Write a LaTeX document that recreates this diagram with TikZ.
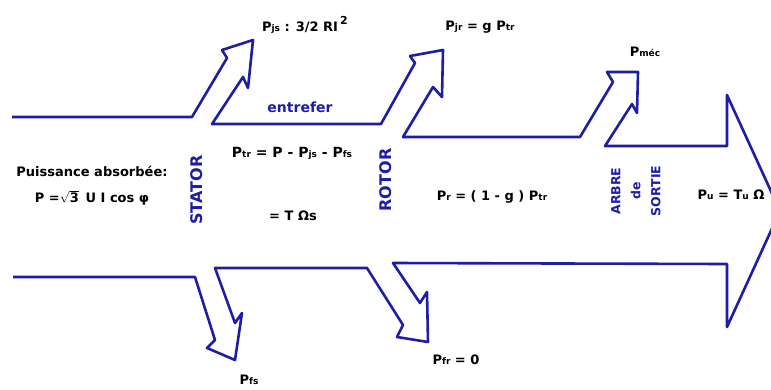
\documentclass[tikz,border=0pt]{standalone}
\usepackage{fontspec}
\setmainfont{DejaVu Sans}
\definecolor{bl}{RGB}{30,30,165}
\newcommand\sbs[1]{{\fontsize{9}{9}\selectfont #1}}
\tikzset{
  band/.style={draw=bl, line width=2.6pt, line join=round},
  formula/.style={font=\bfseries\fontsize{13}{15}\selectfont, text=black, inner sep=0pt},
  part/.style={font=\bfseries\fontsize{16}{16}\selectfont, text=bl, rotate=90, inner sep=0pt, align=center},
}
\begin{document}
\begin{tikzpicture}[x=1pt,y=-1pt]
\useasboundingbox[fill=white] (0,0) rectangle (771,389);
\draw[band] (12,117) -- (192,117) -- (227,58) -- (222,50) -- (253,40) -- (248,88) -- (243,77)
  -- (212,124) -- (381,124) -- (415,63) -- (410,56) -- (443,50) -- (442,97) -- (433,87)
  -- (403,137) -- (580,137) -- (613,82) -- (607,72) -- (638,72) -- (637,113) -- (632,104)
  -- (605,146) -- (727,146) -- (727,95) -- (780,211) -- (727,327) -- (727,264)
  -- (393,263) -- (420,303) -- (427,292) -- (428,342) -- (397,337) -- (403,325)
  -- (367,268) -- (215,268) -- (235,323) -- (242,313) -- (235,360) -- (207,348) -- (215,340)
  -- (195,277) -- (13,277);

\node[formula] (pjs) at (305,25) {P\sbs{js} : 3/2 RI\,\raisebox{1.0ex}{\fontsize{11}{11}\selectfont 2}};
\node[formula, text=bl, font=\bfseries\fontsize{14}{16}\selectfont] (entrefer) at (300,107) {entrefer};
\node[formula, font=\bfseries\fontsize{14}{16}\selectfont] (ptr) at (292,153) {P\sbs{tr} = P - P\sbs{js} - P\sbs{fs}};
\node[formula] (tos) at (293,216) {= T Ωs};
\node[formula] (puis) at (92,171) {Puissance absorbée:};
\node[formula] (pabs) at (92,198) {P =$\sqrt{\hbox{3}}$\, U I cos φ};
\node[part] (stator) at (197,190) {STATOR};
\node[part] (rotor) at (386,180) {ROTOR};
\node[part, font=\bfseries\fontsize{12.5}{20}\selectfont] (arbre) at (636,191) {ARBRE\\de\\SORTIE};
\node[formula] (pr) at (492,197) {P\sbs{r} = ( 1 - g ) P\sbs{tr}};
\node[formula] (pu) at (731,195) {P\sbs{u} = T\sbs{u} Ω};
\node[formula] (pjr) at (480,27) {P\sbs{jr} = g P\sbs{tr}};
\node[formula] (pmec) at (645,52) {P\sbs{méc}};
\node[formula] (pfs) at (249,380) {P\sbs{fs}};
\node[formula] (pfr) at (456,360) {P\sbs{fr} = 0};
\end{tikzpicture}
\end{document}
